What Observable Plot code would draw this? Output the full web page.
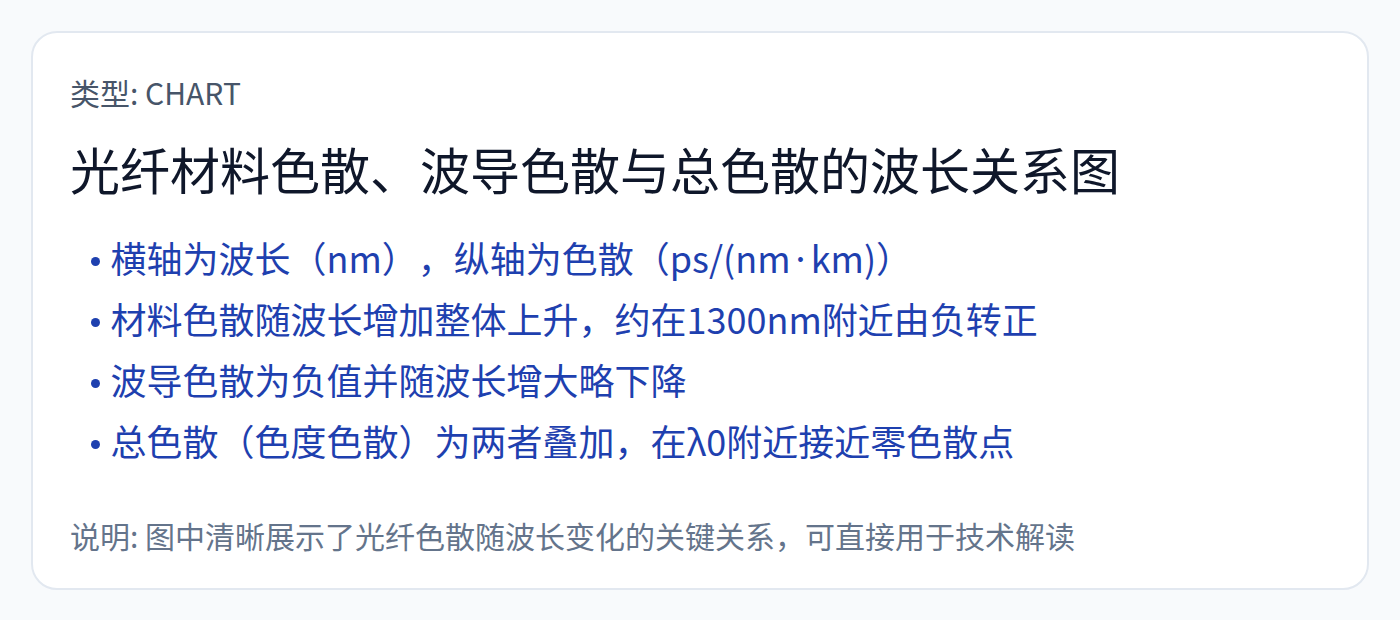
<!DOCTYPE html>
<html lang="en">
<head>
<meta charset="utf-8">
<script src="https://cdn.jsdelivr.net/npm/d3@7"></script>
<script src="https://cdn.jsdelivr.net/npm/@observablehq/plot@0.6"></script>
<style>
  html, body { margin: 0; padding: 0; background: #f8fafc; }
  body { width: 1400px; height: 620px; overflow: hidden; font-family: "Noto Sans CJK SC", "Noto Sans", sans-serif; }
  .card {
    position: absolute; left: 31px; top: 31px; width: 1334px; height: 555px;
    background: #ffffff; border: 2px solid #e2e8f0; border-radius: 26px;
    box-sizing: content-box;
  }
  .inner { position: absolute; left: 37px; top: 37px; width: 1260px; }
  .meta { font-size: 30px; line-height: 44px; color: #475569; margin: 0; }
  .title { font-size: 50px; line-height: 64px; color: #0f172a; margin: 22px 0 0 0; font-weight: 400; }
  #chart { margin-top: 30px; height: 244px; }
  #chart svg text { text-spacing-trim: space-all; }
  .caption { font-size: 30px; line-height: 44px; color: #64748b; margin: 39px 0 0 0; }
</style>
</head>
<body>
<div class="card">
  <div class="inner">
    <p class="meta" id="meta"></p>
    <h1 class="title" id="title"></h1>
    <div id="chart"></div>
    <p class="caption" id="caption"></p>
  </div>
</div>
<script>
const metaLabel = "类型: CHART";
const titleText = "光纤材料色散、波导色散与总色散的波长关系图";
const bullets = [
  "横轴为波长（nm），纵轴为色散（ps/(nm·km)）",
  "材料色散随波长增加整体上升，约在1300nm附近由负转正",
  "波导色散为负值并随波长增大略下降",
  "总色散（色度色散）为两者叠加，在λ0附近接近零色散点"
];
const captionText = "说明: 图中清晰展示了光纤色散随波长变化的关键关系，可直接用于技术解读";

document.getElementById("meta").textContent = metaLabel;
document.getElementById("title").textContent = titleText;
document.getElementById("caption").textContent = captionText;

const blue = "#1e40af";
const plot = Plot.plot({
  width: 1260,
  height: 244,
  margin: 0,
  style: { fontFamily: "\"Noto Sans CJK JP\", \"Noto Sans CJK SC\", sans-serif", background: "transparent", overflow: "visible" },
  y: { type: "point", domain: bullets, padding: 0.5, axis: null },
  marks: [
    Plot.dot(bullets, { y: d => d, frameAnchor: "left", dx: 25, r: 4.5, fill: blue, stroke: null }),
    Plot.text(bullets, { y: d => d, text: d => d, frameAnchor: "left", dx: 40, textAnchor: "start", fontSize: 36, fill: blue })
  ]
});
document.getElementById("chart").appendChild(plot);
</script>
</body>
</html>
